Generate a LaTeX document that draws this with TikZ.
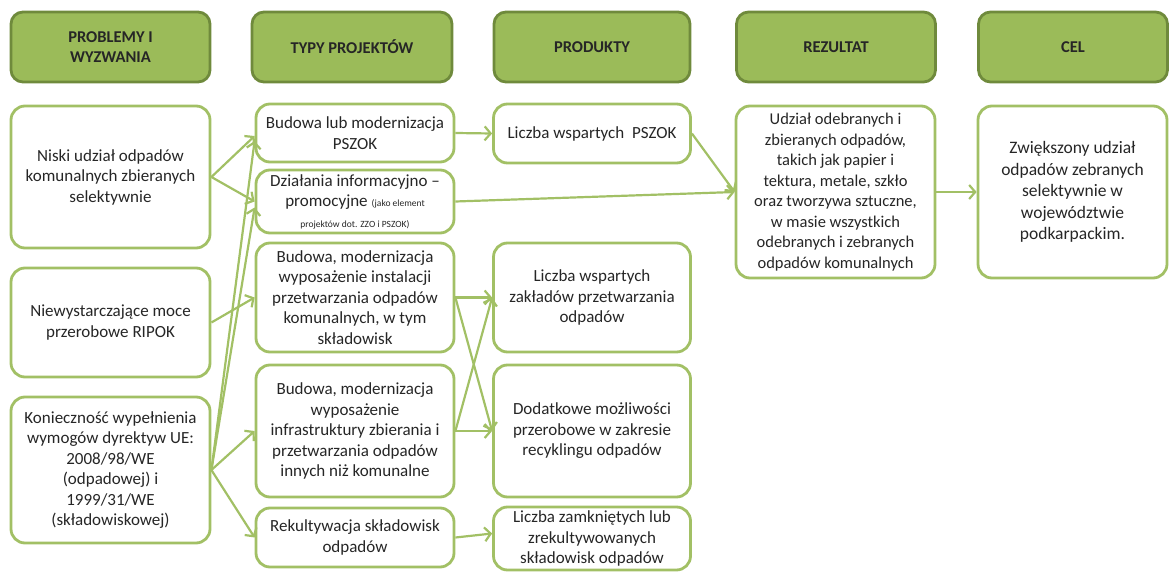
\documentclass[tikz,border=0pt]{standalone}
\usepackage{fontspec}
\setmainfont{Carlito}
\usetikzlibrary{arrows.meta}
\definecolor{hdrgreen}{HTML}{9BBB59}
\definecolor{hdrline}{HTML}{6F8A3C}
\definecolor{boxline}{HTML}{A2C065}
\definecolor{txtgray}{HTML}{262626}
\tikzset{
  hdr/.style={rectangle,rounded corners=12pt,draw=hdrline,fill=hdrgreen,line width=2.8pt,
    minimum height=70pt,align=center,text=txtgray,font=\bfseries\fontsize{16.5}{20}\selectfont},
  box/.style={rectangle,rounded corners=14pt,draw=boxline,fill=white,line width=2.8pt,
    align=center,inner sep=2pt,text=txtgray,font=\fontsize{17}{20.5}\selectfont}
}
\newcommand{\notesize}{\fontsize{9.5}{10}\selectfont}
\begin{document}
\begin{tikzpicture}[x=1pt,y=-1pt]
  \useasboundingbox (0,0) rectangle (1169,572);

  % headers
  \begin{scope}[every node/.style={hdr}]
    \node[minimum width=199pt] (H1) at (110.5,47) {PROBLEMY I\\WYZWANIA};
    \node[minimum width=200pt] (H2) at (352,47) {TYPY PROJEKTÓW};
    \node[minimum width=196pt] (H3) at (592,47) {PRODUKTY};
    \node[minimum width=199pt] (H4) at (836,47) {REZULTAT};
    \node[minimum width=189pt] (H5) at (1073,47) {CEL};
  \end{scope}

  % boxes
  \begin{scope}[every node/.style={box}]
    \node[minimum width=199pt,minimum height=142pt] (N1) at (110.5,177) {Niski udział odpadów\\komunalnych zbieranych\\selektywnie};
    \node[minimum width=199pt,minimum height=109pt] (N2) at (110.5,322.5) {Niewystarczające moce\\przerobowe RIPOK};
    \node[minimum width=199pt,minimum height=146pt] (N3) at (110.5,470) {Konieczność wypełnienia\\wymogów dyrektyw UE:\\2008/98/WE\\(odpadowej) i\\1999/31/WE\\(składowiskowej)};

    \node[minimum width=198pt,minimum height=58pt] (T1) at (355,133) {Budowa lub modernizacja\\PSZOK};
    \node[minimum width=198pt,minimum height=63pt] (T2) at (355,201.5) {Działania informacyjno –\\promocyjne {\notesize(jako element}\\{\notesize projektów dot. ZZO i PSZOK)}};
    \node[minimum width=198pt,minimum height=109pt] (T3) at (355,297.5) {Budowa, modernizacja\\wyposażenie instalacji\\przetwarzania odpadów\\komunalnych, w tym\\składowisk};
    \node[minimum width=198pt,minimum height=132pt] (T4) at (355,431) {Budowa, modernizacja\\wyposażenie\\infrastruktury zbierania i\\przetwarzania odpadów\\innych niż komunalne};
    \node[minimum width=198pt,minimum height=59pt] (T5) at (355,537.5) {Rekultywacja składowisk\\odpadów};

    \node[minimum width=197pt,minimum height=59pt] (P1) at (592,133.5) {Liczba wspartych\ \ PSZOK};
    \node[minimum width=197pt,minimum height=109pt] (P2) at (592,297.5) {Liczba wspartych\\zakładów przetwarzania\\odpadów};
    \node[minimum width=197pt,minimum height=132pt] (P3) at (592,431) {Dodatkowe możliwości\\przerobowe w zakresie\\recyklingu odpadów};
    \node[minimum width=197pt,minimum height=63pt] (P4) at (592,538.5) {Liczba zamkniętych lub\\zrekultywowanych\\składowisk odpadów};

    \node[minimum width=199pt,minimum height=172pt,font=\fontsize{16.5}{20.5}\selectfont] (R) at (835.5,192) {Udział odebranych i\\zbieranych odpadów,\\takich jak papier i\\tektura, metale, szkło\\oraz tworzywa sztuczne,\\w masie wszystkich\\odebranych i zebranych\\odpadów komunalnych};
    \node[minimum width=189pt,minimum height=172pt,font=\fontsize{17.5}{21.5}\selectfont] (C) at (1072.5,192) {Zwiększony udział\\odpadów zebranych\\selektywnie w\\województwie\\podkarpackim.};
  \end{scope}

  % connectors
  \begin{scope}[every edge/.style={draw=boxline,line width=2.2pt}]
    \path [-{Straight Barb[length=6pt,width=14pt]}]
      (N1.east) edge ([yshift=-3pt]T1.west)
      (N1.east) edge (T2.west)
      (N2.east) edge (T3.west)
      (N3.east) edge ([yshift=-8pt]T1.west)
      (N3.east) edge ([yshift=-6pt]T2.west)
      (N3.east) edge (T4.west)
      (N3.east) edge (T5.west)
      (T1.east) edge (P1.west)
      (T3.east) edge (P2.west)
      (T3.east) edge (P3.west)
      (T4.east) edge (P2.west)
      (T4.east) edge (P3.west)
      (T5.east) edge ([yshift=5pt]P4.west)
      (P1.east) edge (R.west)
      (T2.east) edge (R.west)
      (R.east) edge (C.west);
  \end{scope}
\end{tikzpicture}
\end{document}
